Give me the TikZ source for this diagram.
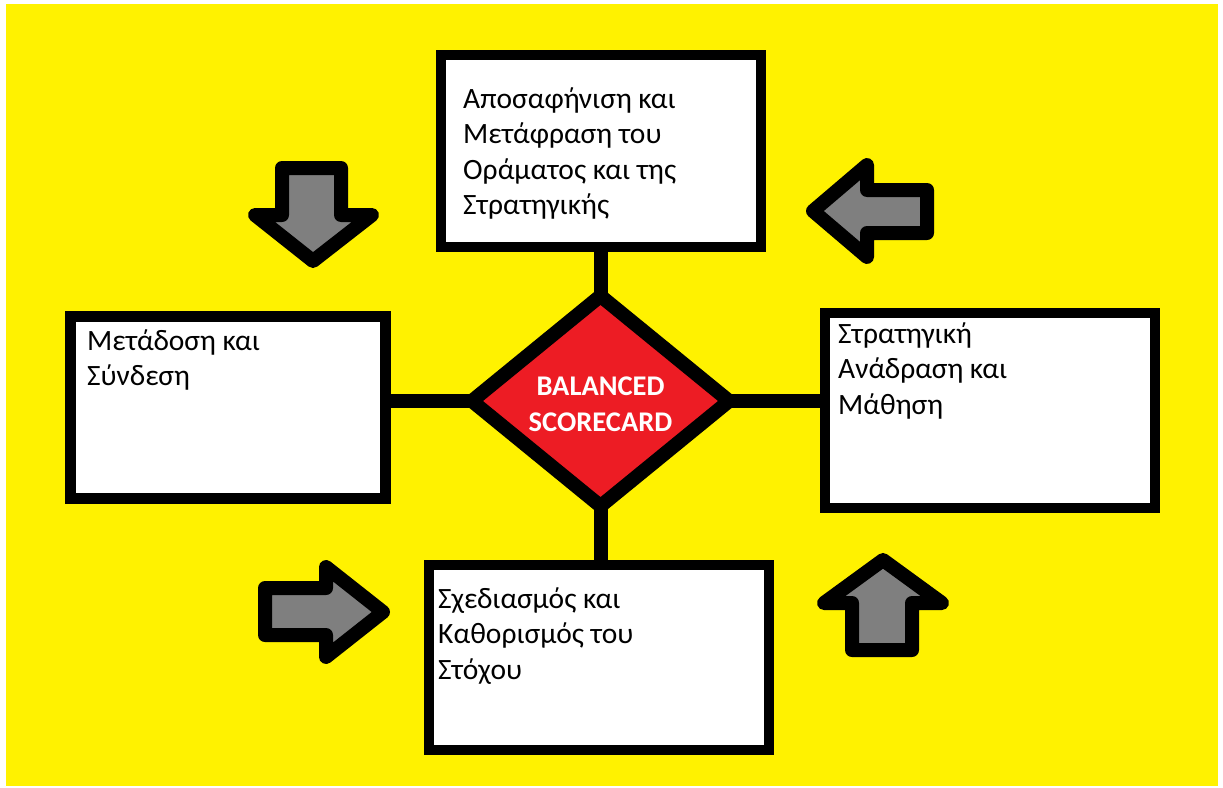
\documentclass[tikz,border=0pt]{standalone}
\usepackage{fontspec}
\setmainfont{Carlito}
\usetikzlibrary{shapes.geometric,backgrounds}
\definecolor{bgyellow}{RGB}{255,242,0}
\definecolor{dred}{RGB}{237,28,36}
\definecolor{agray}{RGB}{127,127,127}
\newcommand\mylines[1]{\vtop{\baselineskip=35.5pt #1}}
\begin{document}
\begin{tikzpicture}[x=1pt,y=-1pt,
  box/.style={draw=black, fill=white, rectangle, inner sep=0pt, line width=10pt},
  conn/.style={draw=black, line width=14pt},
  blockarrow/.style={draw=black, fill=agray, line width=14pt, line join=round},
  txt/.style={anchor=base west, inner sep=0pt, font=\fontsize{29.5}{35.5}\selectfont, text=black}]
\useasboundingbox (0,0) rectangle (1223,787);

% boxes
\node[box, minimum width=320pt, minimum height=192pt] (top) at (601,151) {};
\node[box, line width=11pt, minimum width=315pt, minimum height=182pt] (left) at (227.5,407) {};
\node[box, minimum width=330pt, minimum height=195pt] (right) at (990,410.5) {};
\node[box, minimum width=340pt, minimum height=185pt] (bottom) at (599,657.5) {};

% diamond
\node[diamond, draw=black, fill=dred, line width=14pt, inner sep=0pt,
      minimum width=263pt, minimum height=216pt, aspect=1.22,
      text=white, font=\bfseries\fontsize{28.5}{36}\selectfont,
      text height=20pt, text depth=32pt] (dia) at (600.5,401)
  {\vtop{\baselineskip=36pt\hbox to 160pt{\hss BALANCED\hss}\hbox to 160pt{\hss SCORECARD\hss}}};

% texts
\node[txt] (ttop) at (463,108) {\mylines{\hbox{Αποσαφήνιση και}\hbox{Μετάφραση του}\hbox{Οράματος και της}\hbox{Στρατηγικής}}};
\node[txt] (tleft) at (87,350) {\mylines{\hbox{Μετάδοση και}\hbox{Σύνδεση}}};
\node[txt] (tright) at (838,343) {\mylines{\hbox{Στρατηγική}\hbox{Ανάδραση και}\hbox{Μάθηση}}};
\node[txt] (tbottom) at (438,608) {\mylines{\hbox{Σχεδιασμός και}\hbox{Καθορισμός του}\hbox{Στόχου}}};

% background and connectors
\begin{scope}[on background layer]
  \fill[white] (0,0) rectangle (1223,787);
  \fill[bgyellow] (6,4) rectangle (1218,786);
  \draw[conn] (dia.center) -- (dia.center |- top.center);
  \draw[conn] (dia.center) -- (dia.center |- bottom.center);
  \draw[conn] (dia.center) -- (dia.center -| left.center);
  \draw[conn] (dia.center) -- (dia.center -| right.center);
\end{scope}

% block arrows
\draw[blockarrow] (282,168) -- (341,168) -- (341,215) -- (372,215) -- (313,261) -- (255,215) -- (282,215) -- cycle;
\draw[blockarrow] (927,190) -- (867,190) -- (867,165) -- (813,211) -- (867,257) -- (867,233) -- (927,233) -- cycle;
\draw[blockarrow] (265,588) -- (326,588) -- (326,567) -- (383,612) -- (326,657) -- (326,635) -- (265,635) -- cycle;
\draw[blockarrow] (852,650) -- (912,650) -- (912,603) -- (942,603) -- (883,560) -- (824,603) -- (852,603) -- cycle;
\end{tikzpicture}
\end{document}
